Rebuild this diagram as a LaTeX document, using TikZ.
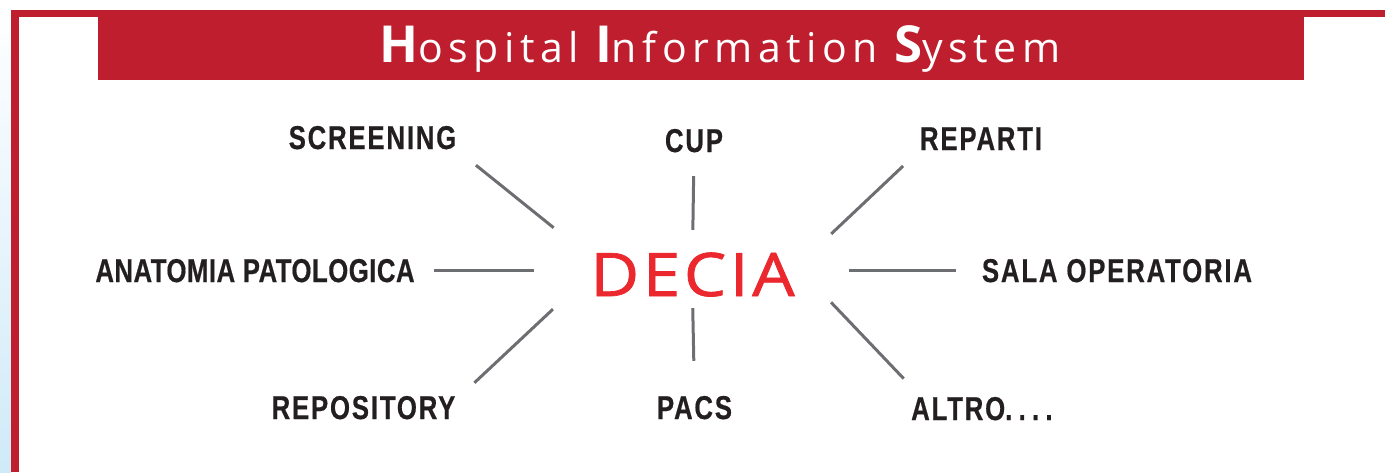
\documentclass[tikz,border=0pt]{standalone}
\usepackage{fontspec}
\setmainfont{Liberation Sans}
\newfontfamily\labelfont{Liberation Sans}[FakeStretch=0.78,LetterSpace=5.5,FakeBold=0.5]
\newfontfamily\titlefont{Open Sans}[LetterSpace=13.5]
\newfontfamily\deciafont{Open Sans}[LetterSpace=6,FakeStretch=1.12,FakeBold=1.2]
\usetikzlibrary{positioning}

\definecolor{hisred}{RGB}{190,30,45}
\definecolor{deciared}{RGB}{234,40,46}
\definecolor{labeltext}{RGB}{35,31,32}
\definecolor{linkgray}{RGB}{109,110,113}
\definecolor{sidesky}{RGB}{208,234,248}

\newcommand{\hiscap}[1]{{\fontsize{51}{51}\selectfont\bfseries #1}}

\begin{document}
\begin{tikzpicture}[x=1pt, y=-1pt,
    module/.style = {inner sep=0pt, anchor=base, text=labeltext, font=\labelfont\bfseries\fontsize{33}{33}\selectfont},
    hub/.style = {inner sep=0pt, anchor=base, text=deciared, text height=43pt, text depth=0pt,
                  minimum width=206pt, font=\deciafont\fontsize{60}{60}\selectfont},
    link/.style = {draw=linkgray, line width=3pt}]
    \useasboundingbox (0,0) rectangle (1385,472);
    % frame and banner
    \shade[top color=white, bottom color=sidesky] (0,0) rectangle (11,472);
    \fill[hisred] (11,10) rectangle (19,472);
    \fill[hisred] (11,10) rectangle (1385,17);
    \fill[hisred] (98,10) rectangle (1304,80);
    \node[inner sep=0pt, anchor=base west, text=white, font=\titlefont\fontsize{41}{41}\selectfont] (title) at (379,62)
        {\hiscap{H}ospital \hiscap{I}nformation \hiscap{S}ystem};
    % centre
    \node[hub] (decia) at (692.5,296) {DECIA};
    % modules
    \node[module] (screening) at (372.5,149) {SCREENING};
    \node[module] (cup) at (694,152) {CUP};
    \node[module] (reparti) at (981,150) {REPARTI};
    \node[module] (anatomia) at (255,282) {\addfontfeatures{LetterSpace=1.5}ANATOMIA PATOLOGICA};
    \node[module] (sala) at (1117,282) {SALA OPERATORIA};
    \node[module] (repository) at (363.5,419) {REPOSITORY};
    \node[module] (pacs) at (694.5,419) {PACS};
    \node[module, anchor=base west] (altro) at (911,420) {ALTRO{\addfontfeatures{LetterSpace=19}....}};
    % links
    \draw[link, shorten <=25pt, shorten >=40pt] (screening.south east) -- ([xshift=-4.5pt]decia.north west);
    \draw[link, shorten <=23.5pt, shorten >=23pt] (cup.south) -- (decia.north);
    \draw[link, shorten <=23pt, shorten >=27.5pt] (reparti.south west) -- ([xshift=15.5pt]decia.north east);
    \draw[link, shorten <=19pt, shorten >=55.5pt] (anatomia.east) -- (anatomia.east -| decia.west);
    \draw[link, shorten <=26pt, shorten >=53.5pt] (sala.west) -- (sala.west -| decia.east);
    \draw[link, shorten <=19pt, shorten >=19pt] ([xshift=5pt]repository.north east) -- ([xshift=-22.5pt]decia.south west);
    \draw[link, shorten <=12pt, shorten >=35pt] (decia.south) -- (pacs.north);
    \draw[link, shorten <=25pt, shorten >=8.5pt] ([xshift=10pt]altro.north west) -- ([xshift=29.5pt]decia.south east);
\end{tikzpicture}
\end{document}
